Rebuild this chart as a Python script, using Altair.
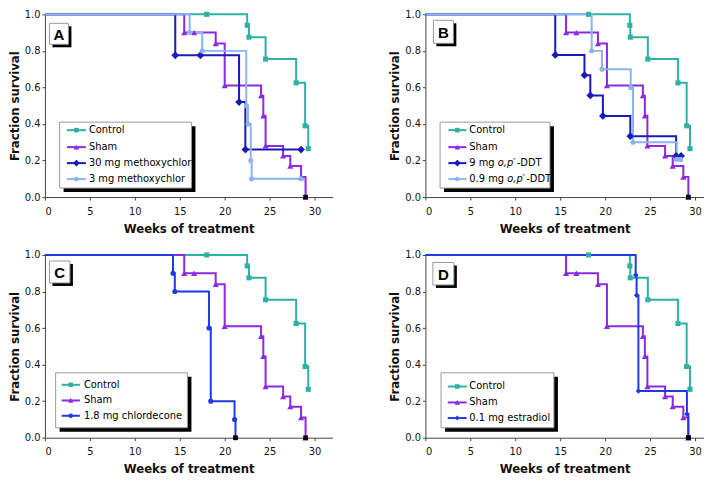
import altair as alt
import pandas as pd

FONT = "Liberation Sans Narrow, DejaVu Sans Condensed, Arial Narrow, sans-serif"

# ---------------- data ----------------
start_week = 0.0
start_surv = 1.0

# Control and Sham appear in every panel (slightly shifted in right-hand panels)
control_weeks_left = [18.0, 22.5, 22.7, 24.55, 27.95, 28.95, 29.3]
control_weeks_right = [18.15, 22.75, 22.8, 24.75, 28.1, 29.07, 29.44]
control_surv = [1.0, 0.94, 0.875, 0.755, 0.625, 0.39, 0.265]

sham_weeks_left = [15.5, 16.6, 19.0, 20.0, 24.05, 24.3, 24.55, 26.5, 27.3, 28.5, 29.0]
sham_weeks_right = [15.65, 16.8, 19.2, 20.2, 24.2, 24.42, 24.7, 26.67, 27.52, 28.7, 29.26]
sham_surv = [0.9, 0.9, 0.84, 0.61, 0.555, 0.445, 0.28, 0.225, 0.17, 0.11, 0.0]

mxc30_weeks = [14.5, 17.3, 21.6, 22.3, 28.5]
mxc30_surv = [0.776, 0.776, 0.52, 0.26, 0.26]

mxc3_weeks = [16.1, 17.5, 22.4, 22.6, 22.9, 23.0, 28.5]
mxc3_surv = [0.9, 0.8, 0.5, 0.4, 0.2, 0.1, 0.1]

ddt9_weeks = [14.45, 17.7, 18.35, 19.75, 22.8, 27.9, 28.45]
ddt9_surv = [0.778, 0.667, 0.556, 0.444, 0.333, 0.225, 0.225]

ddt09_weeks = [18.5, 19.65, 22.85, 23.1, 27.95, 28.4]
ddt09_surv = [0.8, 0.7, 0.6, 0.3, 0.206, 0.206]

chlor_weeks = [14.25, 14.45, 18.25, 18.45, 21.1, 21.2]
chlor_surv = [0.9, 0.8, 0.6, 0.2, 0.1, 0.0]

estr_weeks = [23.4, 23.5, 23.7, 29.1, 29.25]
estr_surv = [0.89, 0.78, 0.255, 0.13, 0.0]

x_ticks = [0, 5, 10, 15, 20, 25, 30]
y_ticks = [0.0, 0.2, 0.4, 0.6, 0.8, 1.0]

# ---------------- styles ----------------
C_CONTROL = "#2eb0a4"
C_SHAM = "#8a2be2"
C_DARK = "#1a1ab8"
C_LIGHT = "#8cb4f2"
C_BLUE = "#1f3ae0"

LEG_FS = 11
ONE = pd.DataFrame({"k": [0]})


def axes(xmax):
    X = alt.X("week:Q",
              scale=alt.Scale(domain=[0, xmax], nice=False, zero=False),
              axis=alt.Axis(values=x_ticks, title="Weeks of treatment", grid=False,
                            tickSize=3, labelPadding=5, titlePadding=6,
                            labelFontSize=11, titleFontSize=13, titleFontWeight="bold"))
    Y = alt.Y("surv:Q",
              scale=alt.Scale(domain=[0, 1], nice=False),
              axis=alt.Axis(values=y_ticks, format=".1f", title="Fraction survival",
                            grid=False, tickSize=3, labelPadding=2, titlePadding=3,
                            labelFontSize=11, titleFontSize=13, titleFontWeight="bold"))
    return X, Y


def series_layers(weeks, surv, color, shape, size, X, Y):
    df_line = pd.DataFrame({"week": [start_week] + weeks, "surv": [start_surv] + surv})
    df_pts = pd.DataFrame({"week": weeks, "surv": surv})
    line = alt.Chart(df_line).mark_line(interpolate="step-after", color=color,
                                        strokeWidth=2).encode(x=X, y=Y)
    pts = alt.Chart(df_pts).mark_point(filled=True, shape=shape, size=size, color=color,
                                       opacity=1).encode(x=X, y=Y)
    zero = alt.Chart(df_pts).transform_filter("datum.surv == 0").mark_point(
        filled=True, shape="square", size=22, color="black", opacity=1).encode(x=X, y=Y)
    return line, pts, zero


def rect(x1, y1, x2, y2, **kw):
    return alt.Chart(ONE).mark_rect(**kw).encode(
        x=alt.value(x1), x2=alt.value(x2), y=alt.value(y1), y2=alt.value(y2))


def legend_layers(series, box, rows_y, rule_x, text_x):
    x1, y1, x2, y2 = box
    out = [rect(x1 + 4, y1 + 4, x2 + 4, y2 + 4, color="black"),
           rect(x1, y1, x2, y2, fill="white", stroke="#9a9a9a", strokeWidth=1)]
    for s, yy in zip(series, rows_y):
        label, color, shape, size = s["label"], s["color"], s["shape"], s["size"]
        out.append(alt.Chart(ONE).mark_rule(color=color, strokeWidth=2).encode(
            x=alt.value(rule_x[0]), x2=alt.value(rule_x[1]), y=alt.value(yy)))
        out.append(alt.Chart(ONE).mark_point(filled=True, shape=shape, size=size * 0.8,
                                             color=color, opacity=1).encode(
            x=alt.value((rule_x[0] + rule_x[1]) / 2), y=alt.value(yy)))
        parts = s.get("parts", [(label, "normal", 0)])
        for txt, style, dx in parts:
            out.append(alt.Chart(ONE).mark_text(
                align="left", baseline="middle", font=FONT, fontSize=LEG_FS,
                fontStyle=style, color="black").encode(
                x=alt.value(text_x + dx), y=alt.value(yy), text=alt.value(txt)))
    return out


def letter_layers(letter, box):
    x1, y1, x2, y2 = box
    return [rect(x1 + 3, y1 + 3, x2 + 3, y2 + 3, color="black"),
            rect(x1, y1, x2, y2, fill="white", stroke="#9a9a9a", strokeWidth=1),
            alt.Chart(ONE).mark_text(font="Liberation Sans, Arial, sans-serif",
                                     fontSize=15, fontWeight="bold",
                                     align="center", baseline="middle", color="black").encode(
                x=alt.value((x1 + x2) / 2), y=alt.value((y1 + y2) / 2 + 1),
                text=alt.value(letter))]


def panel(letter, series, xmax, width, legend_cfg, letter_box):
    X, Y = axes(xmax)
    lines, pts, zeros = [], [], []
    for s in series:
        l, p, z = series_layers(s["weeks"], s["surv"], s["color"], s["shape"], s["size"], X, Y)
        lines.append(l)
        pts.append(p)
        zeros.append(z)
    layers = lines + pts + zeros
    layers += legend_layers(series, **legend_cfg)
    layers += letter_layers(letter, letter_box)
    return alt.layer(*layers).properties(width=width, height=183)


def S(label, weeks, surv, color, shape, size, parts=None):
    d = dict(label=label, weeks=weeks, surv=surv, color=color, shape=shape, size=size)
    if parts:
        d["parts"] = parts
    return d


ctrl_L = S("Control", control_weeks_left, control_surv, C_CONTROL, "square", 26)
sham_L = S("Sham", sham_weeks_left, sham_surv, C_SHAM, "triangle-up", 38)
ctrl_R = S("Control", control_weeks_right, control_surv, C_CONTROL, "square", 26)
sham_R = S("Sham", sham_weeks_right, sham_surv, C_SHAM, "triangle-up", 38)

pA = panel("A", [ctrl_L, sham_L,
                 S("30 mg methoxychlor", mxc30_weeks, mxc30_surv, C_DARK, "diamond", 60),
                 S("3 mg methoxychlor", mxc3_weeks, mxc3_surv, C_LIGHT, "circle", 26)],
           32, 288,
           dict(box=(14.7, 108, 146.7, 174), rows_y=[116, 133, 149, 165],
                rule_x=(22, 41), text_x=44),
           (4.5, 9, 23.5, 30))

pB = panel("B", [ctrl_R, sham_R,
                 S("9 mg o,p′-DDT", ddt9_weeks, ddt9_surv, C_DARK, "diamond", 60,
                   parts=[("9 mg", "normal", 0), ("o,p′", "italic", 28.5), ("-DDT", "normal", 47.5)]),
                 S("0.9 mg o,p′-DDT", ddt09_weeks, ddt09_surv, C_LIGHT, "circle", 26,
                   parts=[("0.9 mg", "normal", 0), ("o,p′", "italic", 38), ("-DDT", "normal", 57)])],
           31, 279,
           dict(box=(14.7, 108, 124.7, 174), rows_y=[116, 133, 149, 165],
                rule_x=(23, 41), text_x=44),
           (8, 6, 28, 29))

pC = panel("C", [ctrl_L, sham_L,
                 S("1.8 mg chlordecone", chlor_weeks, chlor_surv, C_BLUE, "circle", 26)],
           32, 288,
           dict(box=(10.7, 118, 142.7, 173), rows_y=[130, 145.7, 161],
                rule_x=(16.7, 35), text_x=39),
           (4.5, 6, 25, 28))

pD = panel("D", [ctrl_R, sham_R,
                 S("0.1 mg estradiol", estr_weeks, estr_surv, C_BLUE, "diamond", 30)],
           31, 279,
           dict(box=(15.7, 118, 128.7, 173), rows_y=[131.7, 147.7, 163.3],
                rule_x=(22.4, 41.4), text_x=44),
           (7.5, 7.5, 28.5, 30))

top = alt.hconcat(pA, pB, spacing=56)
bottom = alt.hconcat(pC, pD, spacing=56)
chart = alt.vconcat(top, bottom, spacing=14).properties(
    padding={"left": 0, "top": 0, "right": 0, "bottom": 0}
).configure_view(stroke=None).configure_axis(
    labelFont=FONT, titleFont=FONT, labelColor="#111", titleColor="#111",
    domainColor="#444", tickColor="#444", domainWidth=1
)

chart.save("out.html", embed_options={"renderer": "svg", "actions": False})
